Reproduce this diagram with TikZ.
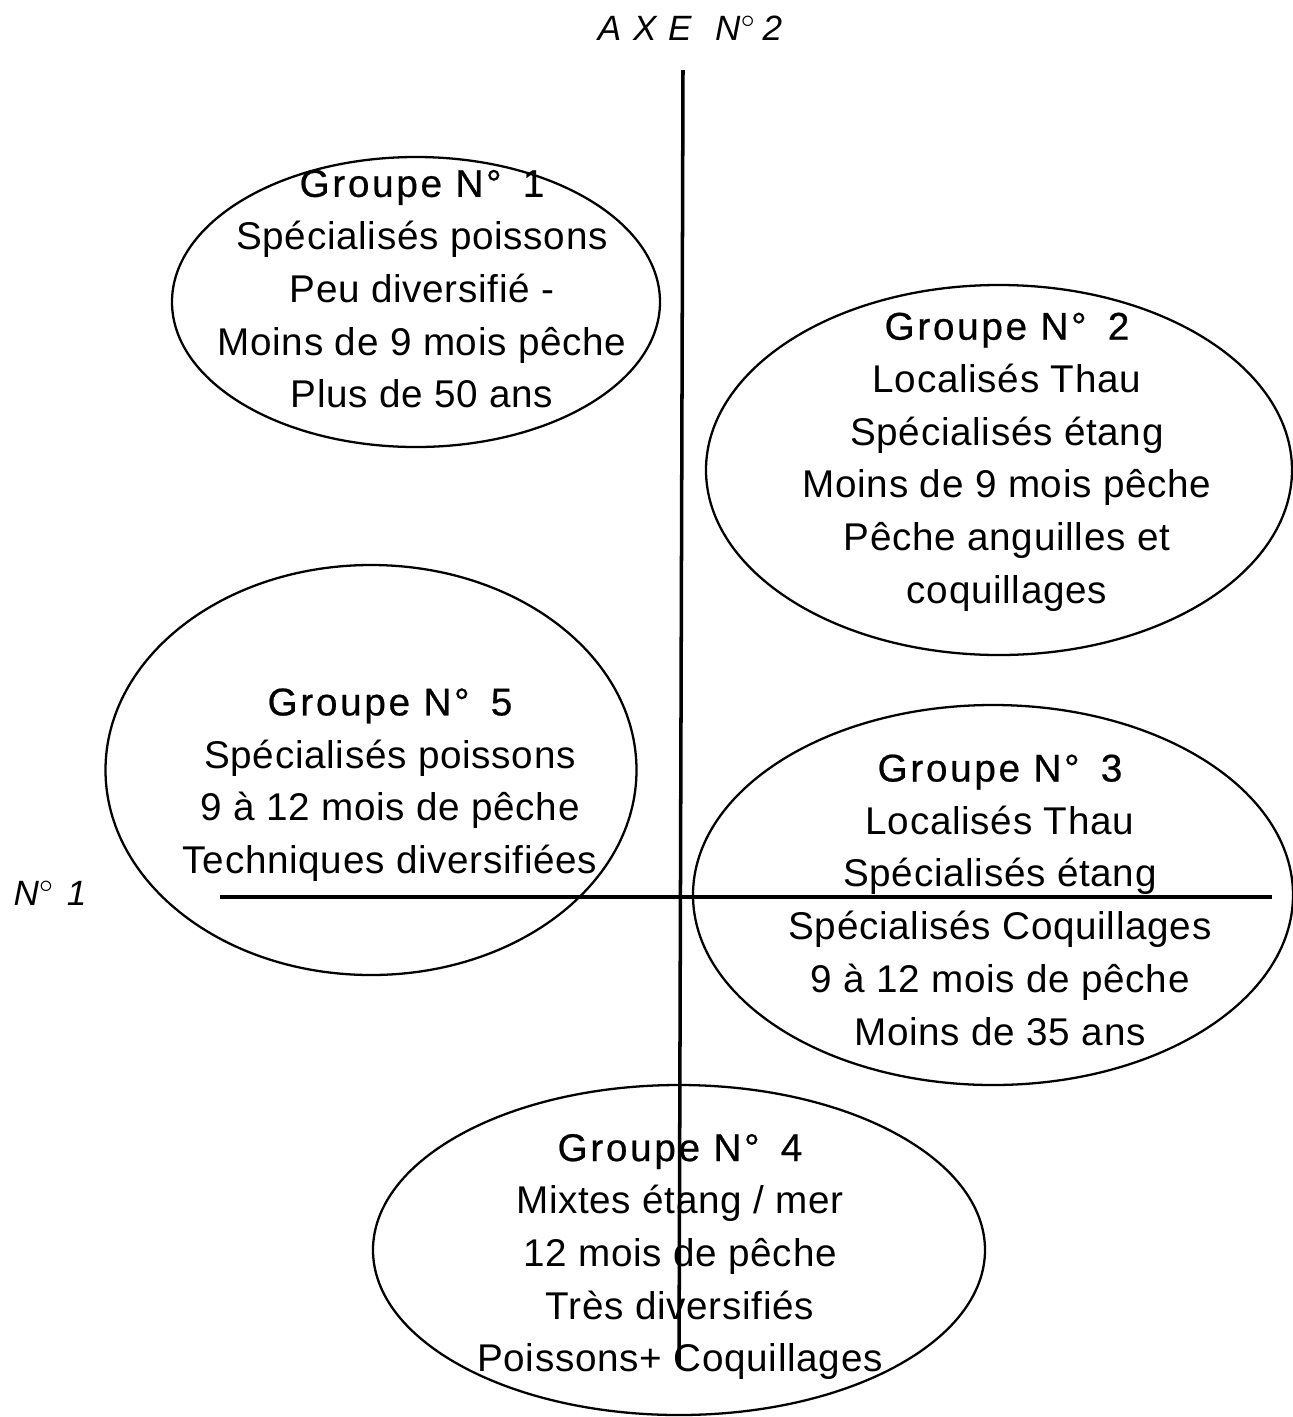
\documentclass[tikz,border=0pt]{standalone}
\usepackage{fontspec}
\setmainfont{Liberation Sans}
\newfontfamily\bodyfont[LetterSpace=1.8]{Liberation Sans}
\newfontfamily\headfont[LetterSpace=7,FakeBold=0.6]{Liberation Sans}
\newcommand{\grptitle}[1]{{\headfont Groupe N°\hspace{0.55em}#1}}
\usetikzlibrary{shapes.geometric}

\begin{document}
\begin{tikzpicture}[
  oval/.style={draw,ellipse,inner sep=0pt,line width=0.65pt},
  txt/.style={align=center,font=\bodyfont\fontsize{11}{15}\selectfont},
  axis/.style={line width=1pt},
  axlab/.style={font=\itshape\fontsize{10}{12}\selectfont}
]
\useasboundingbox (0,0) rectangle (12.93,-14.17);

% axes
\coordinate (vtop) at (6.83,-0.70);
\coordinate (vbot) at (6.79,-13.66);
\coordinate (hleft) at (2.20,-8.97);
\coordinate (hright) at (12.72,-8.97);
\draw[axis] (vtop) -- (vbot);
\draw[axis] (hleft) -- (hright);
\node[axlab] (ax2) at (6.90,-0.28) {A\,\,X\,\,E\,\,\,\,N$^{\circ}$\,2};
\node[axlab] (ax1) at (0.50,-8.93) {N$^{\circ}$\,\,1};

% groups
\node[oval,minimum width=4.88cm,minimum height=2.90cm] (e1) at (4.16,-3.02) {};
\node[oval,minimum width=5.86cm,minimum height=3.70cm] (e2) at (9.99,-4.70) {};
\node[oval,minimum width=5.31cm,minimum height=4.10cm] (e5) at (3.71,-7.70) {};
\node[oval,minimum width=6.00cm,minimum height=3.80cm] (e3) at (9.93,-8.95) {};
\node[oval,minimum width=6.12cm,minimum height=3.30cm] (e4) at (6.79,-12.50) {};

\node[txt] (t1) at (4.22,-2.89) {\grptitle{1}\\Spécialisés poissons\\Peu diversifié -\\Moins de 9 mois pêche\\Plus de 50 ans};
\node[txt] (t2) at (10.07,-4.62) {\grptitle{2}\\Localisés Thau\\Spécialisés étang\\Moins de 9 mois pêche\\Pêche anguilles et\\coquillages};
\node[txt] (t5) at (3.90,-7.85) {\grptitle{5}\\Spécialisés poissons\\9 à 12 mois de pêche\\Techniques diversifiées};
\node[txt] (t3) at (10.00,-9.00) {\grptitle{3}\\Localisés Thau\\Spécialisés étang\\Spécialisés Coquillages\\9 à 12 mois de pêche\\Moins de 35 ans};
\node[txt] (t4) at (6.80,-12.57) {\grptitle{4}\\Mixtes étang / mer\\12 mois de pêche\\Très diversifiés\\Poissons+ Coquillages};
\end{tikzpicture}
\end{document}
